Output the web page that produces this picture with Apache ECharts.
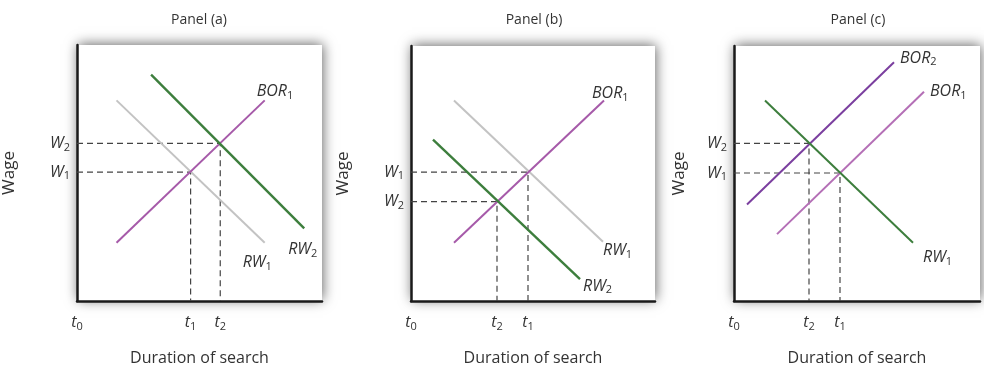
<!DOCTYPE html>
<html><head><meta charset="utf-8">
<script src="https://cdn.jsdelivr.net/npm/echarts@6/dist/echarts.min.js"></script>
<style>html,body{margin:0;padding:0;background:#fff}#c{width:984px;height:371px}</style>
</head><body><div id="c"></div>
<script>
// ---- data ----
const panelTitles = ['Panel (a)', 'Panel (b)', 'Panel (c)'];
const xAxisName = 'Duration of search';
const yAxisName = 'Wage';
const xMax = [248, 244, 246];
const yMax = [268, 267, 267];

// Panel (a)
const a_RW1 = [[40, 210], [190, 61]];
const a_RW2 = [[75, 237], [230, 76]];
const a_BOR1 = [[40, 61], [190, 210]];
const a_wages = [135, 165];   // W1, W2
const a_times = [115, 145];   // t1, t2
// Panel (b)
const b_RW1 = [[43, 210], [192, 62]];
const b_RW2 = [[22, 169], [169, 23]];
const b_BOR1 = [[43, 61], [193, 210]];
const b_wages = [135, 104];   // W1, W2
const b_times = [117, 86];    // t1, t2
// Panel (c)
const c_RW1 = [[31, 210], [179, 61]];
const c_BOR1 = [[43, 70], [190, 219]];
const c_BOR2 = [[13, 101], [160, 250]];
const c_wages = [134, 165];   // W1, W2
const c_times = [106, 75];    // t1, t2

// ---- styles ----
const GREEN = '#3d7e3d', PURPLE = '#a65aa9', GRAY = '#c3c3c3',
      DPURPLE = '#7b3f9f', LPURPLE = '#b46fb6', DASH = '#444';
const FONT = 'Open Sans';
const rich = {
  m: { fontFamily: FONT, fontStyle: 'italic', fontSize: 16, color: '#333' },
  s: { fontFamily: FONT, fontSize: 11, color: '#333', padding: [8, 0, 0, 0] }
};
function sub(name, idx) { return '{m|' + name + '}{s|' + idx + '}'; }

const grids = [
  { left: 74, top: 45, width: 248, height: 268 },
  { left: 411, top: 46, width: 244, height: 267 },
  { left: 734, top: 46, width: 246, height: 267 }
];
const yNameGap = [59, 59, 46];
const wagesAll = [a_wages, b_wages, c_wages];
const timesAll = [a_times, b_times, c_times];

const option = {
  backgroundColor: '#fff',
  animation: false,
  title: panelTitles.map((t, i) => ({
    text: t, left: grids[i].left + grids[i].width / 2 - 4, top: 8, textAlign: 'center',
    textStyle: { fontFamily: FONT, fontWeight: 'normal', fontSize: 14, color: '#333' }
  })),
  grid: grids.map(g => Object.assign({
    show: true, backgroundColor: '#fff', borderWidth: 0,
    shadowBlur: 12, shadowColor: 'rgba(0,0,0,0.6)', shadowOffsetY: -1, shadowOffsetX: 1
  }, g)),
  xAxis: grids.map((g, i) => ({
    gridIndex: i, type: 'value', min: 0, max: xMax[i],
    name: xAxisName, nameLocation: 'middle', nameGap: 49,
    nameTextStyle: { fontFamily: FONT, fontSize: 16, color: '#333' },
    axisLine: { show: true, lineStyle: { color: '#1a1a1a', width: 2.5 } },
    axisTick: { show: false }, splitLine: { show: false },
    axisLabel: {
      customValues: [0, timesAll[i][0], timesAll[i][1]],
      margin: 12, rich: rich,
      formatter: v => v === 0 ? sub('t', 0) : (v === timesAll[i][0] ? sub('t', 1) : sub('t', 2))
    }
  })),
  yAxis: grids.map((g, i) => ({
    gridIndex: i, type: 'value', min: 0, max: yMax[i],
    name: yAxisName, nameLocation: 'middle', nameGap: yNameGap[i],
    nameTextStyle: { fontFamily: FONT, fontSize: 17, color: '#333' },
    axisLine: { show: true, lineStyle: { color: '#1a1a1a', width: 2.5 } },
    axisTick: { show: false }, splitLine: { show: false },
    axisLabel: {
      customValues: [wagesAll[i][0], wagesAll[i][1]],
      margin: 7, rich: rich,
      formatter: v => v === wagesAll[i][0] ? sub('W', 1) : sub('W', 2)
    }
  })),
  series: []
};

function dashed(i, w, t) {
  option.series.push({
    type: 'line', xAxisIndex: i, yAxisIndex: i, symbol: 'none', silent: true,
    data: [[0, w], [t, w], [t, 0]],
    lineStyle: { color: DASH, width: 1.2, type: [6, 4] }, z: 2
  });
}
function curve(i, data, color, width, label, dx, dy) {
  option.series.push({
    type: 'line', xAxisIndex: i, yAxisIndex: i, symbol: 'none', silent: true,
    data: data, lineStyle: { color: color, width: width }, z: 3,
    endLabel: { show: true, distance: 0, offset: [dx, dy], formatter: label, rich: rich, align: 'left', verticalAlign: 'middle' }
  });
}
// Panel (a)
dashed(0, a_wages[0], a_times[0]);
dashed(0, a_wages[1], a_times[1]);
curve(0, a_RW1, GRAY, 2, sub('RW', 1), -22, 20);
curve(0, a_BOR1, PURPLE, 2, sub('BOR', 1), -8, -9);
curve(0, a_RW2, GREEN, 2.4, sub('RW', 2), -16, 21);
// Panel (b)
dashed(1, b_wages[0], b_times[0]);
dashed(1, b_wages[1], b_times[1]);
curve(1, b_RW1, GRAY, 2, sub('RW', 1), 0, 9);
curve(1, b_BOR1, PURPLE, 2, sub('BOR', 1), -12, -7);
curve(1, b_RW2, GREEN, 2.4, sub('RW', 2), 3, 7);
// Panel (c)
dashed(2, c_wages[0], c_times[0]);
dashed(2, c_wages[1], c_times[1]);
curve(2, c_BOR1, LPURPLE, 2, sub('BOR', 1), 6, 0);
curve(2, c_BOR2, DPURPLE, 2, sub('BOR', 2), 6, -4);
curve(2, c_RW1, GREEN, 2, sub('RW', 1), 10, 15);

const chart = echarts.init(document.getElementById('c'), null, { renderer: 'canvas' });
chart.setOption(option);
</script></body></html>
